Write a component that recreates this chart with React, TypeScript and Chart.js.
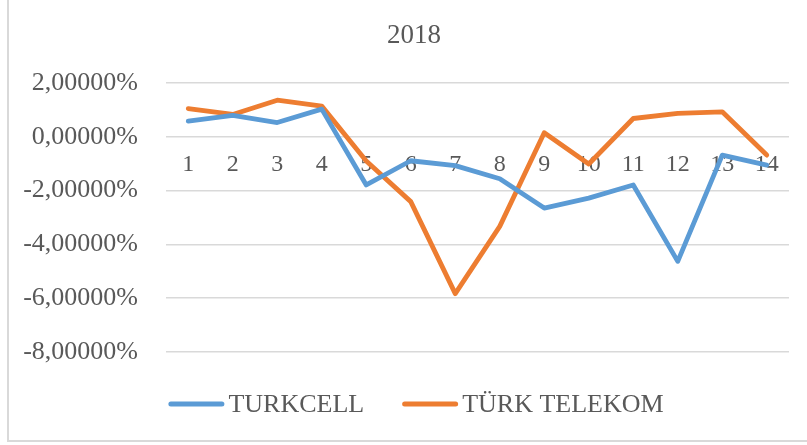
import React, { useEffect, useRef } from "react";
import { Chart, registerables } from "chart.js";

Chart.register(...registerables);

const categories = ["1", "2", "3", "4", "5", "6", "7", "8", "9", "10", "11", "12", "13", "14"];
const turkcell = [0.58, 0.8, 0.53, 1.03, -1.79, -0.89, -1.07, -1.56, -2.65, -2.28, -1.79, -4.63, -0.68, -1.05];
const turkTelekom = [1.05, 0.83, 1.36, 1.14, -0.9, -2.41, -5.83, -3.33, 0.15, -1.01, 0.68, 0.87, 0.93, -0.68];
const seriesNames = ["TURKCELL", "TÜRK TELEKOM"];
const seriesColors = ["#5B9BD5", "#ED7D31"];
const chartTitle = "2018";
const yMin = -8;
const yMax = 2;
const yStep = 2;

const TEXT = "#595959";
const FONT = "'Liberation Serif', 'Times New Roman', serif";

// Title and legend are centred on the full (cropped) chart box, as in the original.
const decorPlugin = {
  id: "excelDecor",
  afterDraw(chart: any) {
    const ctx = chart.ctx;
    const cx = 414;
    ctx.save();
    ctx.fillStyle = TEXT;
    ctx.textAlign = "center";
    ctx.textBaseline = "middle";
    ctx.font = `27px ${FONT}`;
    ctx.fillText(chartTitle, cx, 36);

    const lineLen = 56;
    const gapText = 4;
    const gapItems = 38;
    ctx.font = `26px ${FONT}`;
    const widths = seriesNames.map((n) => ctx.measureText(n).width);
    const total = widths.reduce((a, w) => a + lineLen + gapText + w, 0) + gapItems * (seriesNames.length - 1);
    let x = 416 - total / 2;
    const y = 404;
    seriesNames.forEach((n, i) => {
      ctx.strokeStyle = seriesColors[i];
      ctx.lineWidth = 5;
      ctx.lineCap = "round";
      ctx.beginPath();
      ctx.moveTo(x + 2.5, y);
      ctx.lineTo(x + lineLen - 2.5, y);
      ctx.stroke();
      ctx.fillStyle = TEXT;
      ctx.textAlign = "left";
      ctx.textBaseline = "middle";
      ctx.fillText(n, x + lineLen + gapText, y + 1);
      x += lineLen + gapText + widths[i] + gapItems;
    });
    ctx.restore();
  },
};

export default function App() {
  const ref = useRef<HTMLCanvasElement | null>(null);

  useEffect(() => {
    if (!ref.current) return;
    const chart = new Chart(ref.current, {
      type: "line",
      data: {
        labels: categories,
        datasets: [turkcell, turkTelekom].map((d, i) => ({
          label: seriesNames[i],
          data: d,
          borderColor: seriesColors[i],
          backgroundColor: seriesColors[i],
          borderWidth: 4.8,
          pointRadius: 0,
          pointHoverRadius: 0,
          tension: 0,
          borderJoinStyle: "round" as const,
          borderCapStyle: "round" as const,
        })),
      },
      plugins: [decorPlugin],
      options: {
        animation: false,
        responsive: false,
        devicePixelRatio: 1,
        layout: { padding: { left: 16, right: 18, top: 83, bottom: 93 } },
        plugins: {
          title: { display: false },
          legend: { display: false },
          tooltip: { enabled: false },
        },
        scales: {
          x: {
            position: { y: 0 } as any,
            offset: true,
            grid: { display: false, drawTicks: false, offset: true },
            border: { display: false },
            ticks: {
              color: TEXT,
              font: { family: FONT, size: 24 },
              padding: 14,
              maxRotation: 0,
              autoSkip: false,
            },
          },
          y: {
            min: yMin,
            max: yMax,
            grid: { color: "#d9d9d9", lineWidth: 1.5, drawTicks: false },
            border: { display: false },
            afterFit: (s: any) => {
              s.width = 150;
            },
            ticks: {
              stepSize: yStep,
              color: TEXT,
              font: { family: FONT, size: 26 },
              padding: 28,
              callback: (v: any) => Number(v).toFixed(5).replace(".", ",") + "%",
            },
          },
        },
      },
    });
    return () => chart.destroy();
  }, []);

  return (
    <div style={{ position: "fixed", left: 0, top: 0, width: 807, height: 445, background: "#fff", overflow: "hidden" }}>
      <canvas ref={ref} width={807} height={445} style={{ position: "absolute", left: 0, top: 0, width: 807, height: 445 }} />
      <div
        style={{
          position: "absolute",
          left: 7,
          top: -5,
          width: 900,
          height: 447,
          boxSizing: "border-box",
          border: "2px solid #d9d9d9",
          pointerEvents: "none",
        }}
      />
    </div>
  );
}
